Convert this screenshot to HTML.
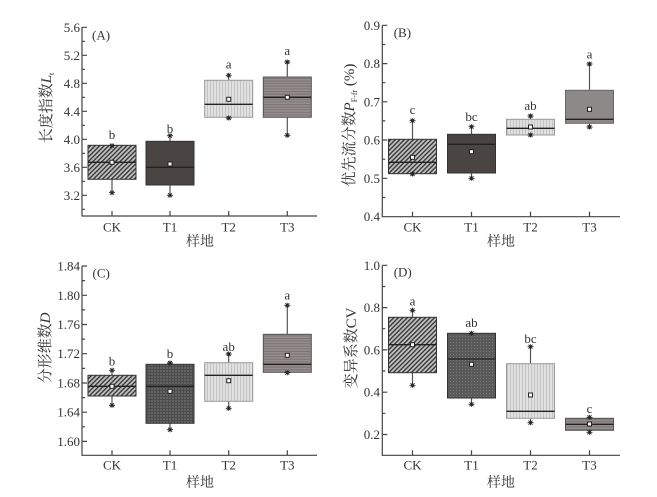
<!DOCTYPE html>
<html><head><meta charset="utf-8"><style>
html,body{margin:0;padding:0;background:#fff;}
svg{display:block;}
text{font-family:"Liberation Serif","Noto Serif CJK SC",serif;fill:#333;}
</style></head><body>
<svg width="657" height="497" viewBox="0 0 657 497" xmlns="http://www.w3.org/2000/svg">
<defs>
<pattern id="hatch" patternUnits="userSpaceOnUse" width="3.2" height="3.2" patternTransform="rotate(45)">
<rect width="3.2" height="3.2" fill="#c0c0c0"/><rect width="1.4" height="3.2" fill="#3a3a3a"/></pattern>
<pattern id="vert" patternUnits="userSpaceOnUse" width="3" height="3">
<rect width="3" height="3" fill="#e0e0e0"/><rect width="1" height="3" fill="#c4c4c4"/></pattern>
<pattern id="horiz" patternUnits="userSpaceOnUse" width="3" height="2.6">
<rect width="3" height="2.6" fill="#968e8e"/><rect width="3" height="1" fill="#7b7373"/></pattern>
<pattern id="grid" patternUnits="userSpaceOnUse" width="3" height="3">
<rect width="3" height="3" fill="#636363"/><rect width="1" height="3" fill="#4c4c4c"/><rect width="3" height="1" fill="#4c4c4c"/></pattern>
<pattern id="dots" patternUnits="userSpaceOnUse" width="3" height="3">
<rect width="3" height="3" fill="#5a5a5a"/><rect width="1" height="1" fill="#7a7a7a"/></pattern>
<path id="st" d="M-3,0H3M-2,-2L2,2M-2,2L2,-2M0,-2.5V2.5" stroke="#222" stroke-width="0.9" fill="none"/>
<rect id="mn" x="-2" y="-2" width="4" height="4" fill="#fff" stroke="#222" stroke-width="1"/>
</defs>

<!-- ============ Panel A ============ -->
<g stroke="#444" stroke-width="1.2" fill="none">
<path d="M82,27V216H317"/>
<path d="M82,27.3h5M82,55.3h5M82,83.3h5M82,111.3h5M82,139.3h5M82,167.3h5M82,195.3h5"/>
<path d="M82,41.3h3M82,69.3h3M82,97.3h3M82,125.3h3M82,153.3h3M82,181.3h3M82,209.3h3"/>
<path d="M112,216v-5M170,216v-5M228.7,216v-5M287.3,216v-5"/>
</g>
<g font-size="13" text-anchor="end">
<text x="80" y="31.8">5.6</text><text x="80" y="59.8">5.2</text><text x="80" y="87.8">4.8</text>
<text x="80" y="115.8">4.4</text><text x="80" y="143.8">4.0</text><text x="80" y="171.8">3.6</text>
<text x="80" y="199.8">3.2</text>
</g>
<g font-size="13" text-anchor="middle">
<text x="112" y="231.5">CK</text><text x="170" y="231.5">T1</text><text x="228.7" y="231.5">T2</text><text x="287.3" y="231.5">T3</text>
<text x="200" y="246" font-size="14">样地</text>
<text x="112" y="139">b</text><text x="170" y="133">b</text><text x="228.7" y="68.5">a</text><text x="287.3" y="55">a</text>
</g>
<text x="92" y="39.5" font-size="13">(A)</text>
<text transform="translate(47,108) rotate(-90)" text-anchor="middle" dominant-baseline="central" font-size="15">长度指数<tspan font-style="italic">L</tspan><tspan font-size="8" dy="4">t</tspan></text>
<g stroke="#555" stroke-width="1.2">
<path d="M112,179.3V192.7M170,135.7V141.3M170,185V195.3M228.7,75.3V80.3M287.3,62V77M287.3,117.3V135.3"/>
</g>
<rect x="88" y="145.3" width="48" height="34" fill="url(#hatch)" stroke="#333"/>
<rect x="146" y="141.3" width="48" height="43.7" fill="#4a4442" stroke="#333"/>
<rect x="204.7" y="80.3" width="48" height="37" fill="url(#vert)" stroke="#999"/>
<rect x="263.3" y="77" width="48" height="40.3" fill="url(#horiz)" stroke="#555"/>
<g stroke="#222" stroke-width="1.3">
<path d="M88,162.3H136M146,167.3H194M204.7,104.3H252.7M263.3,97.3H311.3"/>
</g>
<use href="#st" x="112" y="145.7"/><use href="#st" x="112" y="192.7"/>
<use href="#st" x="170" y="135.7"/><use href="#st" x="170" y="195.3"/>
<use href="#st" x="228.7" y="75.3"/><use href="#st" x="228.7" y="118"/>
<use href="#st" x="287.3" y="62"/><use href="#st" x="287.3" y="135.3"/>
<use href="#mn" x="112" y="162.3"/><use href="#mn" x="170" y="164"/><use href="#mn" x="228.7" y="99.3"/><use href="#mn" x="287.3" y="97.3"/>

<!-- ============ Panel B ============ -->
<g stroke="#444" stroke-width="1.2" fill="none">
<path d="M382.3,25.3V216.7H620"/>
<path d="M382.3,25.3h5M382.3,63.6h5M382.3,101.8h5M382.3,140h5M382.3,178.3h5"/>
<path d="M382.3,44.5h3M382.3,82.7h3M382.3,120.9h3M382.3,159.2h3M382.3,197.5h3"/>
<path d="M412.5,216.7v-5M471.5,216.7v-5M530.5,216.7v-5M589.5,216.7v-5"/>
</g>
<g font-size="13" text-anchor="end">
<text x="380" y="29.8">0.9</text><text x="380" y="68.1">0.8</text><text x="380" y="106.3">0.7</text>
<text x="380" y="144.5">0.6</text><text x="380" y="182.8">0.5</text><text x="380" y="221.1">0.4</text>
</g>
<g font-size="13" text-anchor="middle">
<text x="412.5" y="231.5">CK</text><text x="471.5" y="231.5">T1</text><text x="530.5" y="231.5">T2</text><text x="589.5" y="231.5">T3</text>
<text x="501" y="246" font-size="14">样地</text>
<text x="412.5" y="114">c</text><text x="471.5" y="121">bc</text><text x="530.5" y="110">ab</text><text x="589.5" y="58.7">a</text>
</g>
<text x="393.7" y="37" font-size="13">(B)</text>
<text transform="translate(350,125) rotate(-90)" text-anchor="middle" dominant-baseline="central" font-size="15">优先流分数<tspan font-style="italic">P</tspan><tspan font-size="8" dy="4">F-fr</tspan><tspan dy="-4"> (%)</tspan></text>
<g stroke="#555" stroke-width="1.2">
<path d="M412.5,120.7V139.3M471.5,126.7V134.3M471.5,173V178.3M530.5,116V119.3M589.5,64V90.3M589.5,123.3V127"/>
</g>
<rect x="388.5" y="139.3" width="48" height="34.4" fill="url(#hatch)" stroke="#333"/>
<rect x="447.5" y="134.3" width="48" height="38.7" fill="#4a4442" stroke="#333"/>
<rect x="506.5" y="119.3" width="48" height="15.7" fill="url(#vert)" stroke="#999"/>
<rect x="565.5" y="90.3" width="48" height="33" fill="#8e8989" stroke="#666"/>
<g stroke="#222" stroke-width="1.3">
<path d="M388.5,162.3H436.5M447.5,144.3H495.5M506.5,128.3H554.5M565.5,119.3H613.5"/>
</g>
<use href="#st" x="412.5" y="120.7"/><use href="#st" x="412.5" y="174"/>
<use href="#st" x="471.5" y="126.7"/><use href="#st" x="471.5" y="178.3"/>
<use href="#st" x="530.5" y="116"/><use href="#st" x="530.5" y="135"/>
<use href="#st" x="589.5" y="64"/><use href="#st" x="589.5" y="127"/>
<use href="#mn" x="412.5" y="157.3"/><use href="#mn" x="471.5" y="151.7"/><use href="#mn" x="530.5" y="127"/><use href="#mn" x="589.5" y="109.3"/>

<!-- ============ Panel C ============ -->
<g stroke="#444" stroke-width="1.2" fill="none">
<path d="M82,266V455.3H317"/>
<path d="M82,266h5M82,295.3h5M82,324.5h5M82,353.7h5M82,383h5M82,412.2h5M82,441.4h5"/>
<path d="M82,280.6h3M82,309.9h3M82,339.1h3M82,368.4h3M82,397.6h3M82,426.8h3"/>
<path d="M112,455.3v-5M170,455.3v-5M228.7,455.3v-5M287.3,455.3v-5"/>
</g>
<g font-size="13" text-anchor="end">
<text x="80" y="270.5">1.84</text><text x="80" y="299.8">1.80</text><text x="80" y="329">1.76</text>
<text x="80" y="358.2">1.72</text><text x="80" y="387.5">1.68</text><text x="80" y="416.7">1.64</text>
<text x="80" y="445.9">1.60</text>
</g>
<g font-size="13" text-anchor="middle">
<text x="112" y="469.7">CK</text><text x="170" y="469.7">T1</text><text x="228.7" y="469.7">T2</text><text x="287.3" y="469.7">T3</text>
<text x="200" y="487" font-size="14">样地</text>
<text x="112" y="365.3">b</text><text x="170" y="358">b</text><text x="228.7" y="351">ab</text><text x="287.3" y="299.7">a</text>
</g>
<text x="92.5" y="277.5" font-size="13">(C)</text>
<text transform="translate(46,348) rotate(-90)" text-anchor="middle" dominant-baseline="central" font-size="15">分形维数<tspan font-style="italic">D</tspan></text>
<g stroke="#555" stroke-width="1.2">
<path d="M112,370.3V375.3M112,396V405.3M170,363V364.3M170,423.3V429.7M228.7,354V362.7M228.7,401.3V408.3M287.3,305.3V334.3"/>
</g>
<rect x="88" y="375.3" width="48" height="20.7" fill="url(#hatch)" stroke="#333"/>
<rect x="146" y="364.3" width="48" height="59" fill="url(#grid)" stroke="#333"/>
<rect x="204.7" y="362.7" width="48" height="38.6" fill="url(#vert)" stroke="#999"/>
<rect x="263.3" y="334.3" width="48" height="38" fill="url(#horiz)" stroke="#555"/>
<g stroke="#222" stroke-width="1.3">
<path d="M88,386.3H136M146,386.3H194M204.7,375.3H252.7M263.3,364.3H311.3"/>
</g>
<use href="#st" x="112" y="370.3"/><use href="#st" x="112" y="405.3"/>
<use href="#st" x="170" y="363"/><use href="#st" x="170" y="429.7"/>
<use href="#st" x="228.7" y="354"/><use href="#st" x="228.7" y="408.3"/>
<use href="#st" x="287.3" y="305.3"/><use href="#st" x="287.3" y="372.7"/>
<use href="#mn" x="112" y="386.3"/><use href="#mn" x="170" y="391.3"/><use href="#mn" x="228.7" y="380.7"/><use href="#mn" x="287.3" y="355.3"/>

<!-- ============ Panel D ============ -->
<g stroke="#444" stroke-width="1.2" fill="none">
<path d="M382.3,265.3V455.3H620"/>
<path d="M382.3,265.3h5M382.3,307.6h5M382.3,349.9h5M382.3,392.2h5M382.3,434.5h5"/>
<path d="M382.3,286.5h3M382.3,328.7h3M382.3,371h3M382.3,413.3h3"/>
<path d="M412.5,455.3v-5M471.5,455.3v-5M530.5,455.3v-5M589.5,455.3v-5"/>
</g>
<g font-size="13" text-anchor="end">
<text x="380" y="269.8">1.0</text><text x="380" y="312.1">0.8</text><text x="380" y="354.4">0.6</text>
<text x="380" y="396.7">0.4</text><text x="380" y="439">0.2</text>
</g>
<g font-size="13" text-anchor="middle">
<text x="412.5" y="469.7">CK</text><text x="471.5" y="469.7">T1</text><text x="530.5" y="469.7">T2</text><text x="589.5" y="469.7">T3</text>
<text x="501" y="487" font-size="14">样地</text>
<text x="412.5" y="305.5">a</text><text x="471.5" y="327">ab</text><text x="530.5" y="343.2">bc</text><text x="589.5" y="413">c</text>
</g>
<text x="393.7" y="276.5" font-size="13">(D)</text>
<text transform="translate(352,348) rotate(-90)" text-anchor="middle" dominant-baseline="central" font-size="15">变异系数CV</text>
<g stroke="#555" stroke-width="1.2">
<path d="M412.5,310.3V317.3M412.5,372.7V385.3M471.5,398V404.3M530.5,346.7V363.7M530.5,418.3V422.7M589.5,430.3V432.3"/>
</g>
<rect x="388.5" y="317.3" width="48" height="55.4" fill="url(#hatch)" stroke="#333"/>
<rect x="447.5" y="333.3" width="48" height="64.7" fill="url(#dots)" stroke="#333"/>
<rect x="506.5" y="363.7" width="48" height="54.6" fill="url(#vert)" stroke="#999"/>
<rect x="565.5" y="418.3" width="48" height="12" fill="url(#horiz)" stroke="#555"/>
<g stroke="#222" stroke-width="1.3">
<path d="M388.5,344.7H436.5M447.5,359H495.5M506.5,411.3H554.5M565.5,424.3H613.5"/>
</g>
<use href="#st" x="412.5" y="310.3"/><use href="#st" x="412.5" y="385.3"/>
<use href="#st" x="471.5" y="333.3"/><use href="#st" x="471.5" y="404.3"/>
<use href="#st" x="530.5" y="346.7"/><use href="#st" x="530.5" y="422.7"/>
<use href="#st" x="589.5" y="417.3"/><use href="#st" x="589.5" y="432.3"/>
<use href="#mn" x="412.5" y="344.7"/><use href="#mn" x="471.5" y="364.3"/><use href="#mn" x="530.5" y="395"/><use href="#mn" x="589.5" y="424"/>
</svg>
</body></html>
